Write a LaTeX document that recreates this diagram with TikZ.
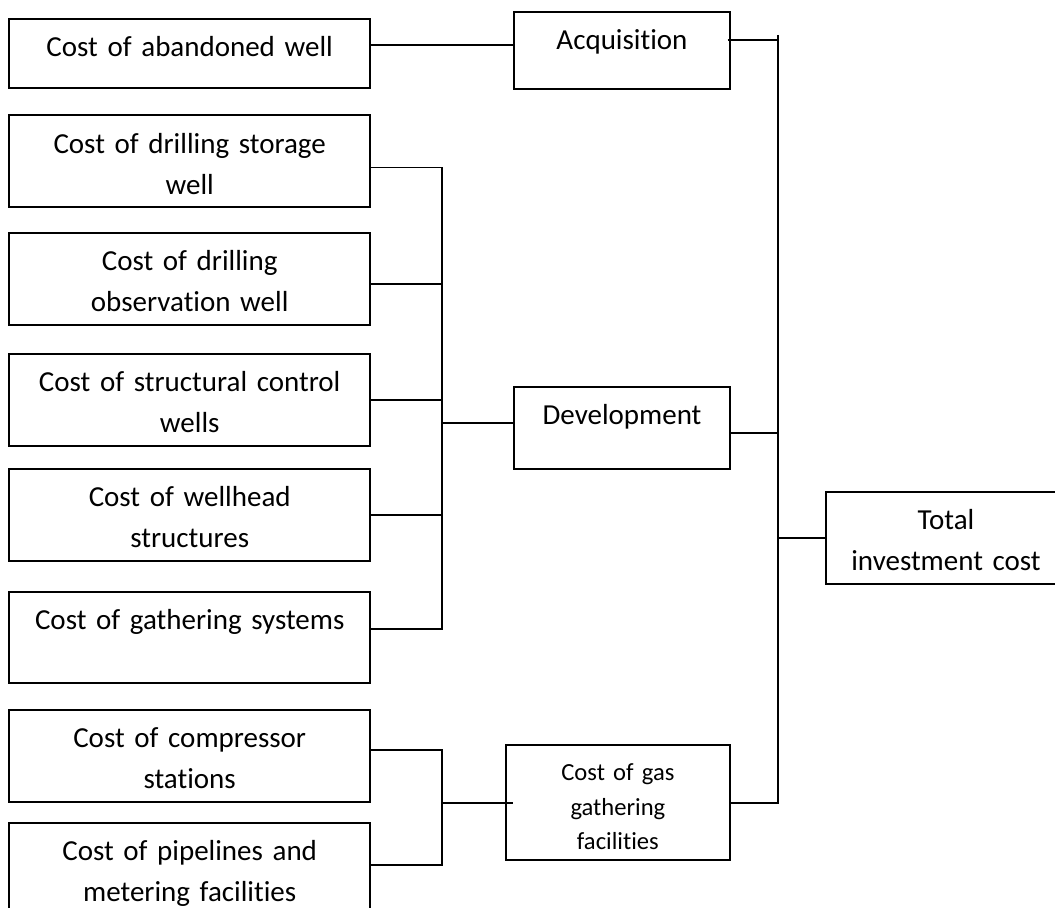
\documentclass[tikz,border=0pt]{standalone}
\usepackage{fontspec}
\setmainfont{Carlito}[RawFeature={-liga}, WordSpace=0.8]

\begin{document}
\begin{tikzpicture}[
    x=0.02cm, y=-0.02cm,
    font=\fontsize{16.5}{23.3}\selectfont,
    bx/.style 2 args={draw, line width=1.1pt, inner xsep=0pt, inner ysep=0pt,
      anchor=north, align=center, text width=#1, text height=0.76cm, text depth=#2},
    ln/.style={line width=1pt},
  ]

  \useasboundingbox (0,0) rectangle (1055,908);

  % --- left column: single cost items ---
  \node[bx={7.214cm}{0.614cm}] (ab)     at (189.7,18)    {Cost of abandoned well};
  \node[bx={7.214cm}{1.074cm}] (stor)   at (189.7,114.3) {Cost of drilling storage\\well};
  \node[bx={7.214cm}{1.092cm}] (obs)    at (189.7,231.7) {Cost of drilling\\observation well};
  \node[bx={7.214cm}{1.086cm}] (struct) at (189.7,352.7) {Cost of structural control\\wells};
  \node[bx={7.214cm}{1.086cm}] (head)   at (189.7,467.7) {Cost of wellhead\\structures};
  \node[bx={7.214cm}{1.072cm}] (gath)   at (189.7,590.7) {Cost of gathering systems};
  \node[bx={7.214cm}{1.074cm}] (comp)   at (189.7,709)   {Cost of compressor\\stations};
  \node[bx={7.214cm}{1.090cm}] (pipe)   at (189.7,821.7) {Cost of pipelines and\\metering facilities};

  % --- middle column: groups ---
  \node[bx={4.32cm}{0.774cm}] (acq) at (622,11)    {Acquisition};
  \node[bx={4.32cm}{0.880cm}] (dev) at (622,385.7) {Development};
  \node[bx={4.486cm}{1.604cm}, font=\fontsize{14}{19.9}\selectfont, text height=0.696cm]
       (gas) at (617.9,744.3) {Cost of gas\\gathering\\facilities};

  % --- right: the total ---
  \node[bx={4.8cm}{1.08cm}] (total) at (946,490.7) {Total\\investment cost};

  % --- bracket lines and bus ---
  \coordinate (dj) at (441.7,0);
  \coordinate (gj) at (442.3,0);
  \coordinate (bt) at (778,35);
  \coordinate (bb) at (778,804.3);

  % --- ports on the box sides ---
  \coordinate (pab) at ([yshift=0.168cm]ab.east);
  \coordinate (pst) at ([yshift=-0.13cm]stor.east);
  \coordinate (pob) at ([yshift=-0.094cm]obs.east);
  \coordinate (psc) at (struct.east);
  \coordinate (pwh) at (head.east);
  \coordinate (pgs) at ([yshift=0.164cm]gath.east);
  \coordinate (pcs) at ([yshift=0.118cm]comp.east);
  \coordinate (ppl) at ([yshift=0.073cm]pipe.east);
  \coordinate (pdw) at ([yshift=0.1cm]dev.west);
  \coordinate (pde) at ([yshift=-0.1cm]dev.east);
  \coordinate (pae) at ([xshift=-0.066cm,yshift=0.206cm]acq.east);
  \coordinate (pgw) at ([xshift=0.17cm]gas.west);

  % --- acquisition ---
  \draw[ln] (pab) -- (pab -| acq.west);

  % --- development ---
  \draw[ln] (pst) -| (pgs -| dj) -- (pgs);
  \draw[ln] (pob) -- (pob -| dj);
  \draw[ln] (psc) -- (psc -| dj);
  \draw[ln] (pwh) -- (pwh -| dj);
  \draw[ln] (pdw -| dj) -- (pdw);

  % --- gas gathering facilities ---
  \draw[ln] (pcs) -| (ppl -| gj) -- (ppl);
  \draw[ln] (pgw -| gj) -- (pgw);

  % --- everything into the total ---
  \draw[ln] (bt) -- (bb);
  \draw[ln] (pae) -- (pae -| bt);
  \draw[ln] (pde) -- (pde -| bt);
  \draw[ln] (gas.east) -- (gas.east -| bt);
  \draw[ln] (total.west) -- (total.west -| bt);

\end{tikzpicture}
\end{document}
